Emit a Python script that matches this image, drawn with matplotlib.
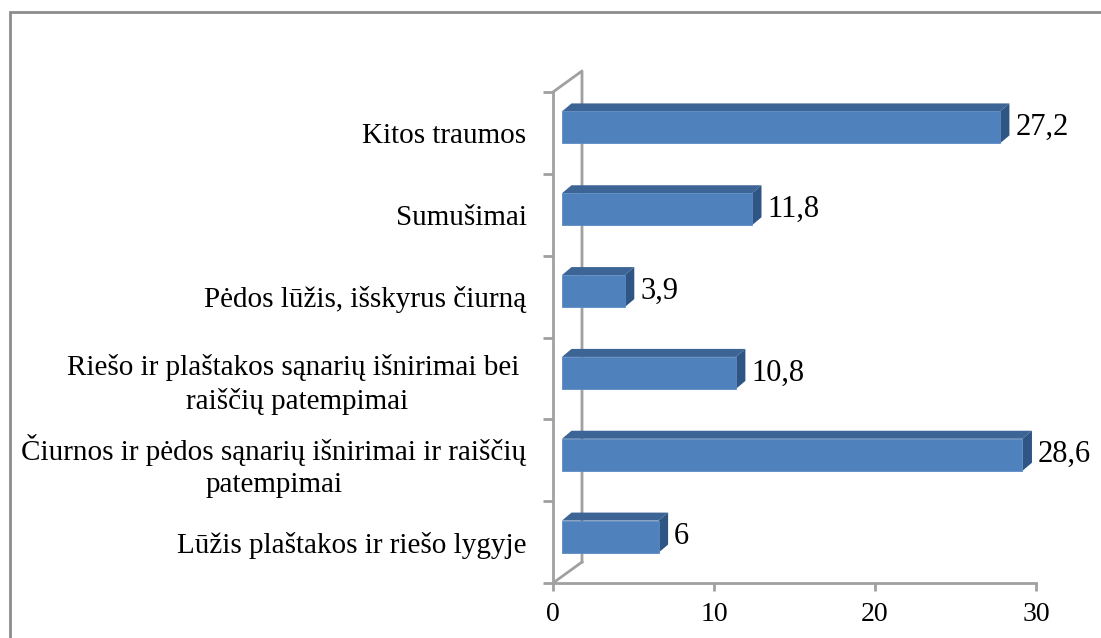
import matplotlib
matplotlib.use("Agg")
import matplotlib.pyplot as plt
from matplotlib.patches import Polygon, Rectangle

categories = [
    "Lūžis plaštakos ir riešo lygyje",
    "Čiurnos ir pėdos sąnarių išnirimai ir raiščių\npatempimai",
    "Riešo ir plaštakos sąnarių išnirimai bei \nraiščių patempimai",
    "Pėdos lūžis, išskyrus čiurną",
    "Sumušimai",
    "Kitos traumos",
]
values = [6, 28.6, 10.8, 3.9, 11.8, 27.2]
value_labels = ["6", "28,6", "10,8", "3,9", "11,8", "27,2"]
xticks = [0, 10, 20, 30]

plt.rcParams['font.family'] = ['Liberation Serif', 'DejaVu Serif']

W, H = 1101, 638
fig = plt.figure(figsize=(W / 100, H / 100), dpi=100)

# outer frame (only left/top visible in reference)
fig.patches.append(Rectangle((10 / W, -0.1), 1.2, (H - 12) / H + 0.1,
                             transform=fig.transFigure, fill=False,
                             edgecolor='#8c8c8c', lw=2.0))

x0, x1 = 553, 1036
y0, y1 = 92, 583
ax = fig.add_axes([x0 / W, (H - y1) / H, (x1 - x0) / W, (y1 - y0) / H])
ax.set_xlim(0, 30)
ax.set_ylim(0, 6)

pxx = (x1 - x0) / 30.0
pxy = (y1 - y0) / 6.0

# wall depth
wdx, wdy = 29 / pxx, 21 / pxy
# bar geometry
bfront = 9 / pxx          # bar front face x-offset
bshift = 5.5 / pxy        # bar front face upward shift
bh = 32 / pxy             # bar height
bdx, bdy = 9.5 / pxx, 8 / pxy

wall = '#a0a0a0'
ax.plot([0, wdx, wdx], [6, 6 + wdy, wdy], color=wall, lw=2, clip_on=False, zorder=1)
ax.plot([0, wdx], [0, wdy], color=wall, lw=2, clip_on=False, zorder=1)

front_c = '#4f81bd'
top_c = '#3c6494'
side_c = '#2f5585'

for i, (v, lab) in enumerate(zip(values, value_labels)):
    yc = i + 0.5 + bshift
    yb, yt = yc - bh / 2, yc + bh / 2
    xl, xr = bfront, bfront + v
    ax.add_patch(Polygon([(xl, yt), (xr, yt), (xr + bdx, yt + bdy), (xl + bdx, yt + bdy)],
                         closed=True, facecolor=top_c, edgecolor='none', clip_on=False, zorder=3))
    ax.add_patch(Polygon([(xr, yb), (xr + bdx, yb + bdy), (xr + bdx, yt + bdy), (xr, yt)],
                         closed=True, facecolor=side_c, edgecolor='none', clip_on=False, zorder=3))
    ax.add_patch(Rectangle((xl, yb), v, bh, facecolor=front_c, edgecolor='#5b8bc4',
                           lw=0.6, clip_on=False, zorder=4))
    ax.text(xr + bdx + 6 / pxx, yc, lab, fontsize=22, ha='left', va='center',
            color='black', zorder=5, clip_on=False)

for s in ['top', 'right']:
    ax.spines[s].set_visible(False)
for s in ['left', 'bottom']:
    ax.spines[s].set_color(wall)
    ax.spines[s].set_linewidth(2)

ax.set_xticks(xticks)
ax.set_xticklabels([str(t) for t in xticks], fontsize=20)
ax.tick_params(axis='x', direction='out', length=6, width=2, color=wall, pad=8)

ax.set_yticks(range(7))
ax.set_yticklabels([])
ax.tick_params(axis='y', which='major', direction='out', length=7, width=2, color=wall)
ax.set_yticks([i + 0.5 for i in range(6)], minor=True)
ax.set_yticklabels(categories, minor=True, fontsize=21, multialignment='center',
                   linespacing=1.3)
ax.tick_params(axis='y', which='minor', length=0, pad=19)

fig.savefig('out.png', dpi=100)
